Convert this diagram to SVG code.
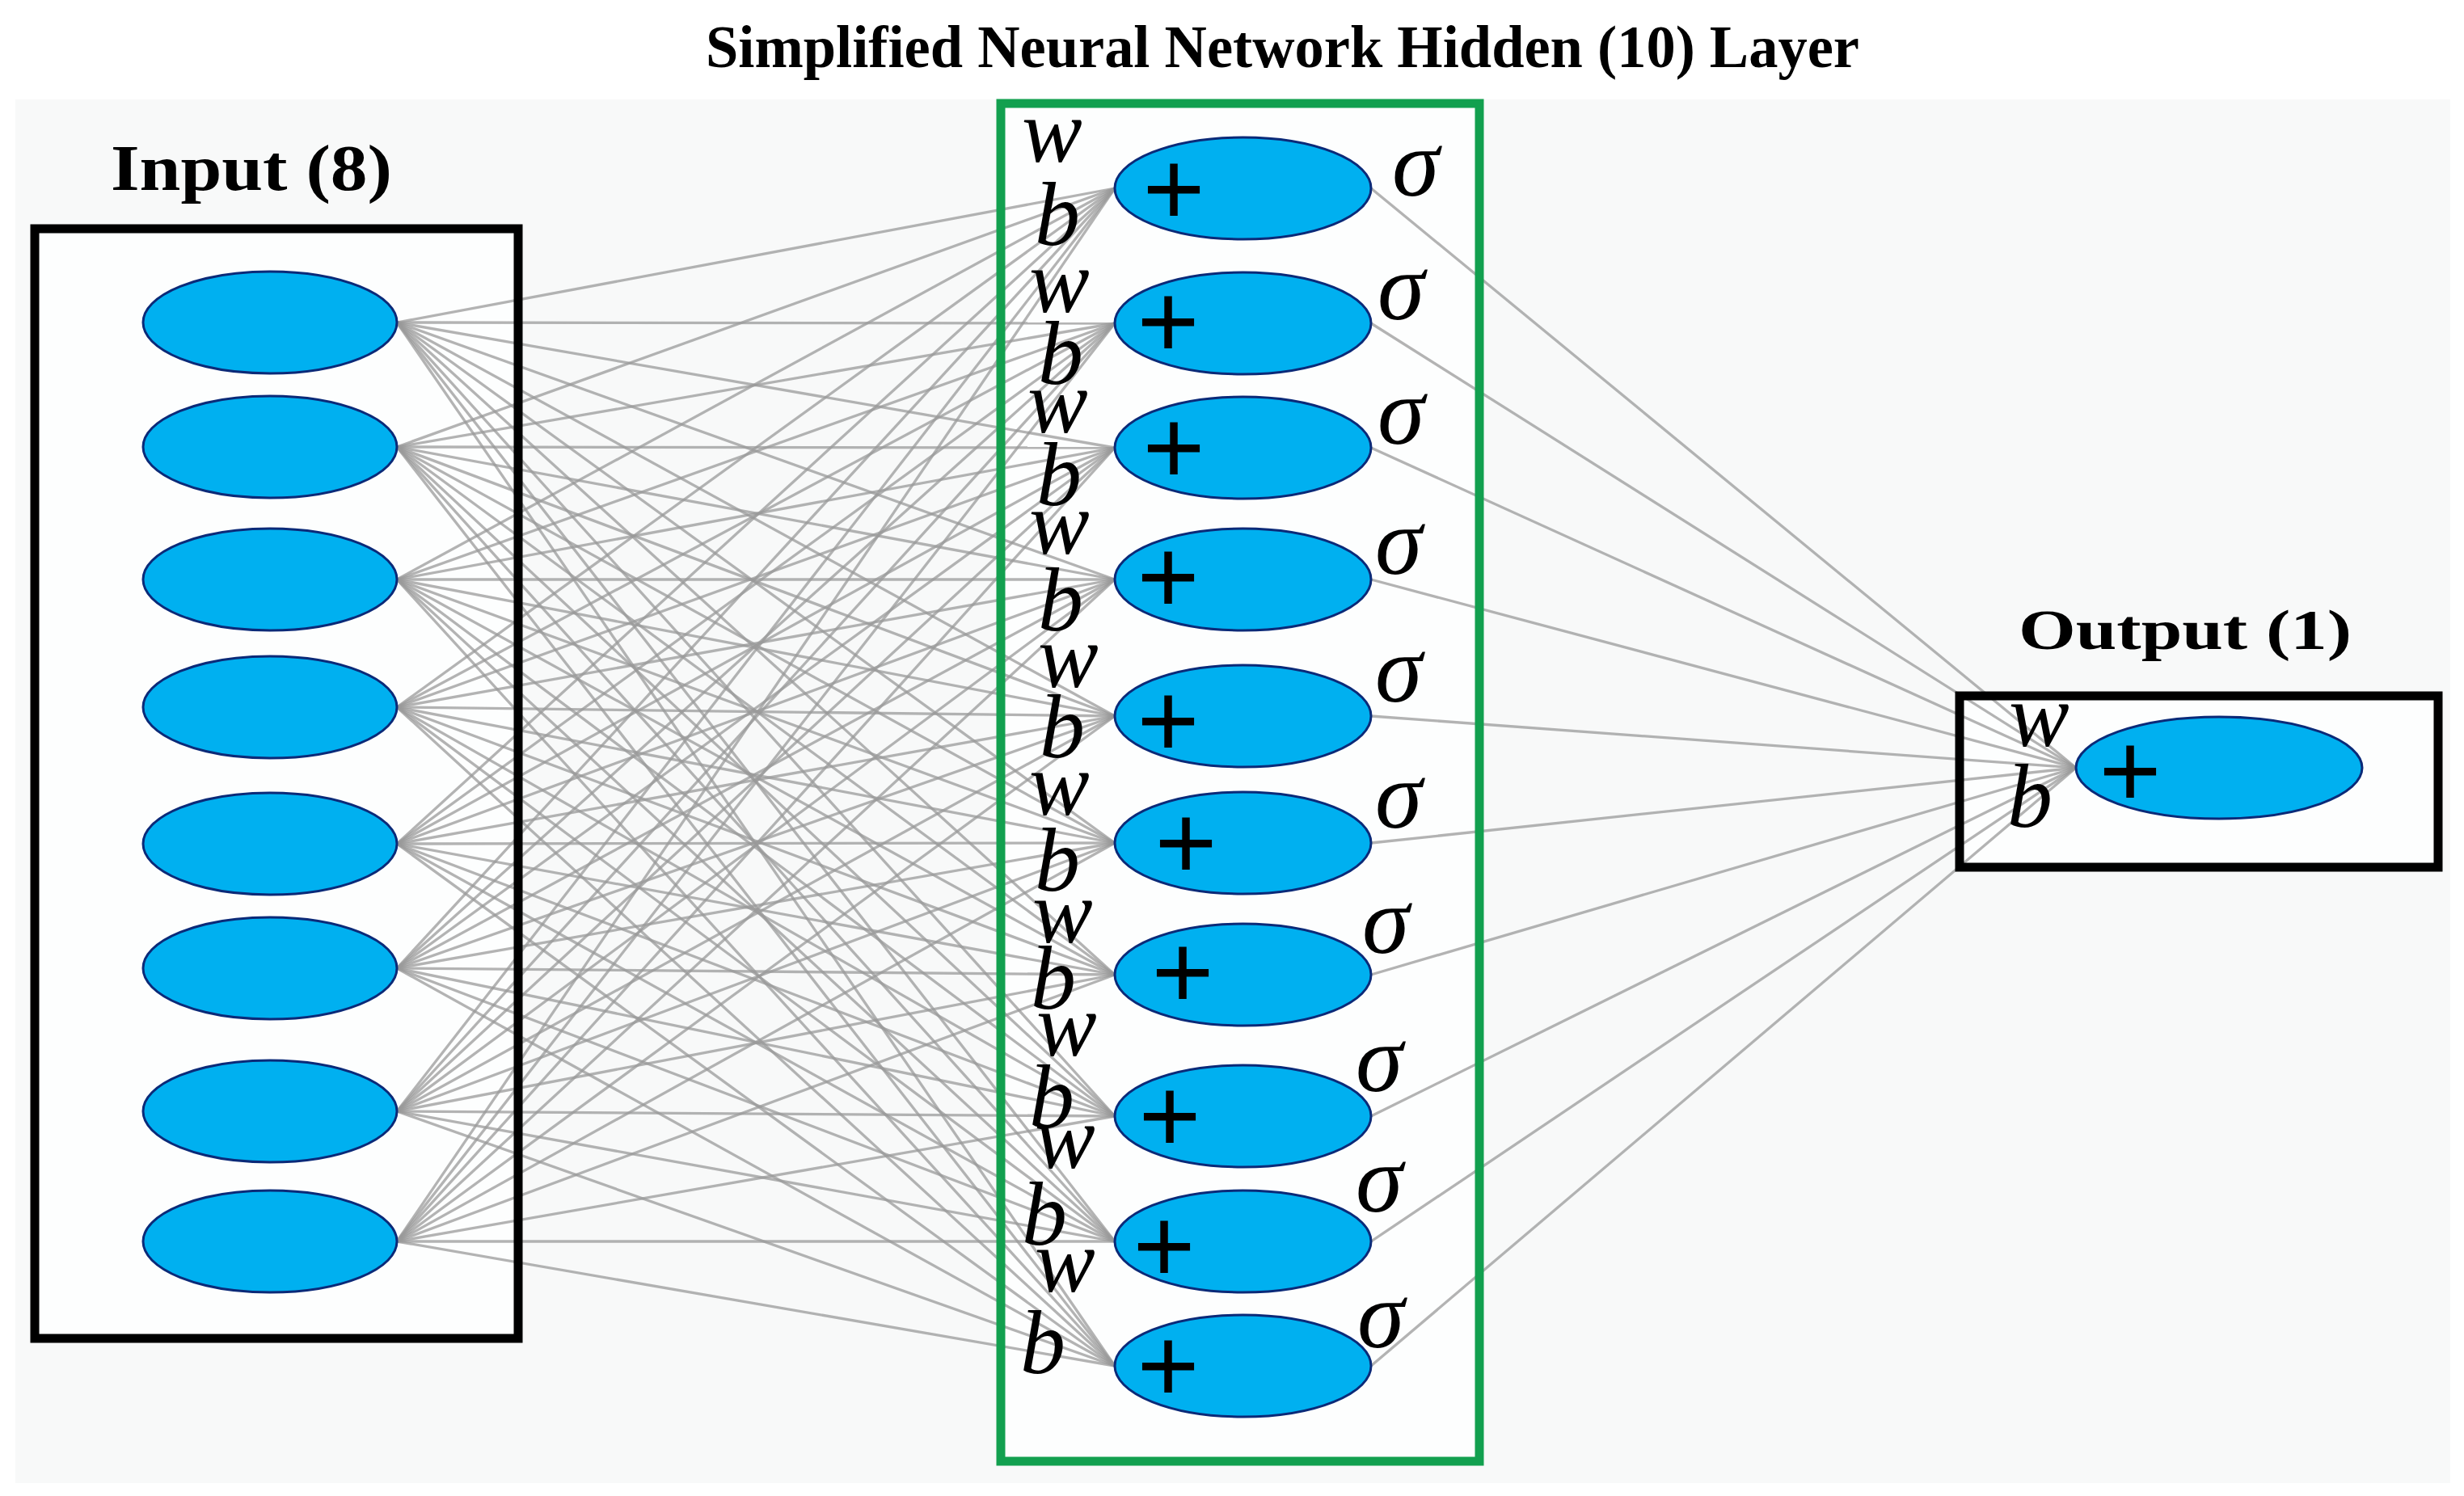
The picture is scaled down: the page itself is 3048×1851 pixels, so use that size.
<svg xmlns="http://www.w3.org/2000/svg" width="3048" height="1851" viewBox="0 0 3048 1851">
<style>
.bg{fill:#f8f9f9}
.inner{fill:#fdfefe}
.box{fill:none;stroke:#000;stroke-width:11}
.hbox{fill:none;stroke:#12a04f;stroke-width:11}
.node{fill:#00b0f0;stroke:#0b2a78;stroke-width:3}
.c line{stroke:#9a9a9a;stroke-width:3.3;stroke-opacity:0.75}
.lbl{font-family:"Liberation Serif","Times New Roman",serif;font-weight:bold;fill:#000}
.it{font-family:"Liberation Serif","Times New Roman",serif;font-style:italic;font-size:112px;fill:#000}
.sg{font-family:"Liberation Serif","Times New Roman",serif;font-style:italic;font-size:118px;fill:#000}
.plus{font-family:"Liberation Sans",Arial,sans-serif;font-size:132px;text-anchor:middle;fill:#000}
</style>
<rect x="0" y="0" width="3048" height="1851" fill="#ffffff"/>
<rect class="bg" x="19" y="123" width="3012" height="1712"/>
<g id="box-fills">
<rect class="inner" x="43" y="283" width="598" height="1373"/>
<rect class="inner" x="1238" y="128" width="592" height="1680"/>
<rect class="inner" x="2424" y="861" width="592" height="212"/>
</g>
<text id="title" class="lbl" x="873" y="83" font-size="75" textLength="1427" lengthAdjust="spacingAndGlyphs">Simplified Neural Network Hidden (10) Layer</text>
<g id="connectors" class="c">
<line x1="491" y1="399" x2="1379" y2="233"/><line x1="491" y1="399" x2="1379" y2="400"/><line x1="491" y1="399" x2="1379" y2="554"/><line x1="491" y1="399" x2="1379" y2="717"/><line x1="491" y1="399" x2="1379" y2="886"/><line x1="491" y1="399" x2="1379" y2="1043"/><line x1="491" y1="399" x2="1379" y2="1206"/><line x1="491" y1="399" x2="1379" y2="1381"/><line x1="491" y1="399" x2="1379" y2="1536"/><line x1="491" y1="399" x2="1379" y2="1690"/>
<line x1="491" y1="553" x2="1379" y2="233"/><line x1="491" y1="553" x2="1379" y2="400"/><line x1="491" y1="553" x2="1379" y2="554"/><line x1="491" y1="553" x2="1379" y2="717"/><line x1="491" y1="553" x2="1379" y2="886"/><line x1="491" y1="553" x2="1379" y2="1043"/><line x1="491" y1="553" x2="1379" y2="1206"/><line x1="491" y1="553" x2="1379" y2="1381"/><line x1="491" y1="553" x2="1379" y2="1536"/><line x1="491" y1="553" x2="1379" y2="1690"/>
<line x1="491" y1="717" x2="1379" y2="233"/><line x1="491" y1="717" x2="1379" y2="400"/><line x1="491" y1="717" x2="1379" y2="554"/><line x1="491" y1="717" x2="1379" y2="717"/><line x1="491" y1="717" x2="1379" y2="886"/><line x1="491" y1="717" x2="1379" y2="1043"/><line x1="491" y1="717" x2="1379" y2="1206"/><line x1="491" y1="717" x2="1379" y2="1381"/><line x1="491" y1="717" x2="1379" y2="1536"/><line x1="491" y1="717" x2="1379" y2="1690"/>
<line x1="491" y1="875" x2="1379" y2="233"/><line x1="491" y1="875" x2="1379" y2="400"/><line x1="491" y1="875" x2="1379" y2="554"/><line x1="491" y1="875" x2="1379" y2="717"/><line x1="491" y1="875" x2="1379" y2="886"/><line x1="491" y1="875" x2="1379" y2="1043"/><line x1="491" y1="875" x2="1379" y2="1206"/><line x1="491" y1="875" x2="1379" y2="1381"/><line x1="491" y1="875" x2="1379" y2="1536"/><line x1="491" y1="875" x2="1379" y2="1690"/>
<line x1="491" y1="1044" x2="1379" y2="233"/><line x1="491" y1="1044" x2="1379" y2="400"/><line x1="491" y1="1044" x2="1379" y2="554"/><line x1="491" y1="1044" x2="1379" y2="717"/><line x1="491" y1="1044" x2="1379" y2="886"/><line x1="491" y1="1044" x2="1379" y2="1043"/><line x1="491" y1="1044" x2="1379" y2="1206"/><line x1="491" y1="1044" x2="1379" y2="1381"/><line x1="491" y1="1044" x2="1379" y2="1536"/><line x1="491" y1="1044" x2="1379" y2="1690"/>
<line x1="491" y1="1198" x2="1379" y2="233"/><line x1="491" y1="1198" x2="1379" y2="400"/><line x1="491" y1="1198" x2="1379" y2="554"/><line x1="491" y1="1198" x2="1379" y2="717"/><line x1="491" y1="1198" x2="1379" y2="886"/><line x1="491" y1="1198" x2="1379" y2="1043"/><line x1="491" y1="1198" x2="1379" y2="1206"/><line x1="491" y1="1198" x2="1379" y2="1381"/><line x1="491" y1="1198" x2="1379" y2="1536"/><line x1="491" y1="1198" x2="1379" y2="1690"/>
<line x1="491" y1="1375" x2="1379" y2="233"/><line x1="491" y1="1375" x2="1379" y2="400"/><line x1="491" y1="1375" x2="1379" y2="554"/><line x1="491" y1="1375" x2="1379" y2="717"/><line x1="491" y1="1375" x2="1379" y2="886"/><line x1="491" y1="1375" x2="1379" y2="1043"/><line x1="491" y1="1375" x2="1379" y2="1206"/><line x1="491" y1="1375" x2="1379" y2="1381"/><line x1="491" y1="1375" x2="1379" y2="1536"/><line x1="491" y1="1375" x2="1379" y2="1690"/>
<line x1="491" y1="1536" x2="1379" y2="233"/><line x1="491" y1="1536" x2="1379" y2="400"/><line x1="491" y1="1536" x2="1379" y2="554"/><line x1="491" y1="1536" x2="1379" y2="717"/><line x1="491" y1="1536" x2="1379" y2="886"/><line x1="491" y1="1536" x2="1379" y2="1043"/><line x1="491" y1="1536" x2="1379" y2="1206"/><line x1="491" y1="1536" x2="1379" y2="1381"/><line x1="491" y1="1536" x2="1379" y2="1536"/><line x1="491" y1="1536" x2="1379" y2="1690"/>
<line x1="1696" y1="233" x2="2568" y2="950"/><line x1="1696" y1="400" x2="2568" y2="950"/><line x1="1696" y1="554" x2="2568" y2="950"/><line x1="1696" y1="717" x2="2568" y2="950"/><line x1="1696" y1="886" x2="2568" y2="950"/><line x1="1696" y1="1043" x2="2568" y2="950"/><line x1="1696" y1="1206" x2="2568" y2="950"/><line x1="1696" y1="1381" x2="2568" y2="950"/><line x1="1696" y1="1536" x2="2568" y2="950"/><line x1="1696" y1="1690" x2="2568" y2="950"/>
</g>
<g id="input-layer">
<rect class="box" x="43" y="283" width="598" height="1373"/>
<text class="lbl" x="137" y="235" font-size="80" textLength="348" lengthAdjust="spacingAndGlyphs">Input (8)</text>
<g id="in1"><ellipse class="node" cx="334" cy="399" rx="157" ry="63"/></g>
<g id="in2"><ellipse class="node" cx="334" cy="553" rx="157" ry="63"/></g>
<g id="in3"><ellipse class="node" cx="334" cy="717" rx="157" ry="63"/></g>
<g id="in4"><ellipse class="node" cx="334" cy="875" rx="157" ry="63"/></g>
<g id="in5"><ellipse class="node" cx="334" cy="1044" rx="157" ry="63"/></g>
<g id="in6"><ellipse class="node" cx="334" cy="1198" rx="157" ry="63"/></g>
<g id="in7"><ellipse class="node" cx="334" cy="1375" rx="157" ry="63"/></g>
<g id="in8"><ellipse class="node" cx="334" cy="1536" rx="157" ry="63"/></g>
</g>
<g id="hidden-layer">
<rect class="hbox" x="1238" y="128" width="592" height="1680"/>
<g id="h1"><ellipse class="node" cx="1537.5" cy="233" rx="158.5" ry="63"/><text class="plus" x="1452" y="279">+</text><text class="it" x="1264" y="200">w</text><text class="it" x="1280" y="303">b</text><text class="sg" x="1722" y="242">σ</text></g>
<g id="h2"><ellipse class="node" cx="1537.5" cy="400" rx="158.5" ry="63"/><text class="plus" x="1445" y="443">+</text><text class="it" x="1273" y="386">w</text><text class="it" x="1284" y="475">b</text><text class="sg" x="1704" y="395">σ</text></g>
<g id="h3"><ellipse class="node" cx="1537.5" cy="554" rx="158.5" ry="63"/><text class="plus" x="1452" y="599">+</text><text class="it" x="1271" y="535">w</text><text class="it" x="1282" y="625">b</text><text class="sg" x="1704" y="549">σ</text></g>
<g id="h4"><ellipse class="node" cx="1537.5" cy="717" rx="158.5" ry="63"/><text class="plus" x="1445" y="759">+</text><text class="it" x="1273" y="685">w</text><text class="it" x="1284" y="780">b</text><text class="sg" x="1701" y="710">σ</text></g>
<g id="h5"><ellipse class="node" cx="1537.5" cy="886" rx="158.5" ry="63"/><text class="plus" x="1445" y="937">+</text><text class="it" x="1284" y="850">w</text><text class="it" x="1286" y="937">b</text><text class="sg" x="1701" y="868">σ</text></g>
<g id="h6"><ellipse class="node" cx="1537.5" cy="1043" rx="158.5" ry="63"/><text class="plus" x="1467" y="1088">+</text><text class="it" x="1273" y="1008">w</text><text class="it" x="1280" y="1102">b</text><text class="sg" x="1701" y="1024">σ</text></g>
<g id="h7"><ellipse class="node" cx="1537.5" cy="1206" rx="158.5" ry="63"/><text class="plus" x="1463" y="1248">+</text><text class="it" x="1277" y="1166">w</text><text class="it" x="1275" y="1248">b</text><text class="sg" x="1685" y="1179">σ</text></g>
<g id="h8"><ellipse class="node" cx="1537.5" cy="1381" rx="158.5" ry="63"/><text class="plus" x="1447" y="1426">+</text><text class="it" x="1282" y="1306">w</text><text class="it" x="1273" y="1395">b</text><text class="sg" x="1677" y="1350">σ</text></g>
<g id="h9"><ellipse class="node" cx="1537.5" cy="1536" rx="158.5" ry="63"/><text class="plus" x="1440" y="1587">+</text><text class="it" x="1280" y="1445">w</text><text class="it" x="1264" y="1540">b</text><text class="sg" x="1677" y="1499">σ</text></g>
<g id="h10"><ellipse class="node" cx="1537.5" cy="1690" rx="158.5" ry="63"/><text class="plus" x="1445" y="1735">+</text><text class="it" x="1280" y="1598">w</text><text class="it" x="1262" y="1699">b</text><text class="sg" x="1679" y="1667">σ</text></g>
</g>
<g id="output-layer">
<rect class="box" x="2424" y="861" width="592" height="212"/>
<text class="lbl" x="2497" y="803" font-size="70" textLength="412" lengthAdjust="spacingAndGlyphs">Output (1)</text>
<g id="out1"><ellipse class="node" cx="2745" cy="950" rx="177" ry="63"/><text class="plus" x="2635" y="999">+</text><text class="it" x="2485" y="923">w</text><text class="it" x="2483" y="1023">b</text></g>
</g>
</svg>
